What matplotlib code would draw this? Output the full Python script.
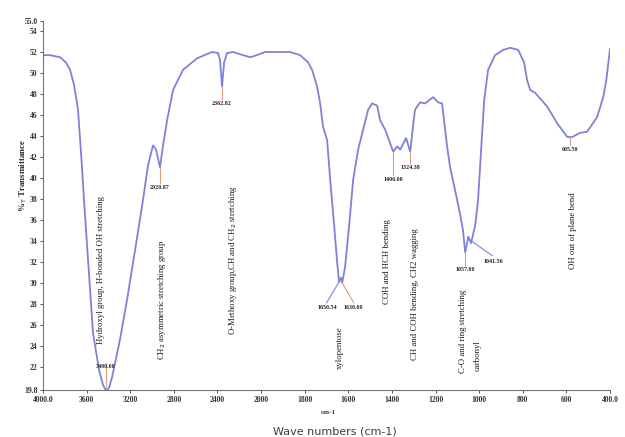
import numpy as np
import matplotlib
matplotlib.use("Agg")
import matplotlib.pyplot as plt

# --- spectrum (wavenumber cm-1, %T) ---
wavenumber = [4000, 3936, 3844, 3789, 3752, 3716, 3679, 3642, 3624, 3587,
              3541, 3486, 3450, 3422, 3394, 3367, 3294, 3229, 3156, 3083,
              3037, 2991, 2963, 2927, 2899, 2862, 2807, 2716, 2587, 2450,
              2394, 2376, 2358, 2339, 2312, 2257, 2165, 2101, 2037, 1982,
              1867, 1821, 1784, 1766, 1743, 1729, 1716, 1697, 1683, 1665,
              1651, 1642, 1633, 1628, 1615, 1596, 1578, 1555, 1532, 1509,
              1491, 1468, 1454, 1431, 1408, 1394, 1376, 1362, 1335, 1316,
              1303, 1294, 1271, 1248, 1211, 1188, 1170, 1147, 1133, 1106,
              1087, 1074, 1064, 1050, 1037, 1018, 1005, 991, 977, 959,
              927, 890, 858, 821, 794, 780, 766, 743, 688, 642,
              596, 573, 537, 505, 459, 431, 417, 400]
transmittance = [51.7, 51.7, 51.5, 51.0, 50.3, 48.9, 46.5, 41.0, 37.9, 32.2,
                 25.2, 21.7, 20.3, 19.7, 20.0, 21.0, 24.6, 28.4, 33.1, 37.9,
                 41.2, 43.1, 42.7, 41.0, 43.1, 45.5, 48.4, 50.3, 51.4, 52.0,
                 51.9, 51.2, 48.7, 51.0, 51.9, 52.0, 51.7, 51.5, 51.7, 52.0,
                 52.0, 51.7, 51.0, 50.3, 48.7, 47.1, 44.9, 43.6, 39.8, 35.5,
                 31.9, 30.1, 30.5, 30.0, 31.5, 35.5, 39.8, 42.7, 44.6, 46.5,
                 47.1, 46.9, 45.5, 44.6, 43.3, 42.5, 43.0, 42.7, 43.8, 42.5,
                 45.0, 46.5, 47.2, 47.1, 47.7, 47.2, 47.1, 43.0, 41.0, 38.4,
                 36.5, 35.0, 32.9, 34.4, 33.8, 35.5, 37.9, 42.7, 47.4, 50.3,
                 51.7, 52.2, 52.4, 52.2, 51.0, 49.3, 48.4, 48.1, 46.8, 45.2,
                 43.9, 43.9, 44.3, 44.4, 45.8, 47.7, 49.3, 52.3]

x_ticks = [4000, 3600, 3200, 2800, 2400, 2000, 1800, 1600, 1400, 1200, 1000, 800, 600, 400]
x_ticklabels = ["4000.0", "3600", "3200", "2800", "2400", "2000", "1800", "1600",
                "1400", "1200", "1000", "800", "600", "400.0"]
y_ticks = [19.8, 22, 24, 26, 28, 30, 32, 34, 36, 38, 40, 42, 44, 46, 48, 50, 52, 54, 55.0]
y_ticklabels = ["19.8"] + [str(v) for v in range(22, 56, 2)] + ["55.0"]

# peak markers: where the leader starts, where the number sits
peak_wn = [3422, 2927, 2358, 1394, 1316, 1064, 583]
peak_T = [19.7, 41.0, 48.7, 42.5, 42.5, 32.9, 43.9]
peak_text_T = [22.0, 39.1, 47.1, 39.9, 41.0, 31.3, 42.7]
peak_labels = ["3400.00", "2920.87", "2362.82", "1406.00", "1324.38", "1057.00", "605.50"]

# band assignments (rotated texts)
band_labels = ["Hydroxyl group, H-bonded OH stretching",
               "CH$_2$ asymmetric stretching group",
               "O-Methoxy group,CH and CH$_2$ stretching",
               "xylopentose",
               "COH and HCH bending",
               "CH and COH bending, CH2 wagging",
               "C-O and ring stretching",
               "carbonyl",
               "OH out of plane bend"]
band_wn = [3470, 2905, 2262, 1637, 1422, 1294, 1074, 1005, 568]
band_T = [31.2, 28.4, 32.2, 23.8, 32.0, 28.9, 25.4, 23.1, 35.0]


def fwd(x):
    x = np.asarray(x, dtype=float)
    return np.where(x >= 2000, x / 400.0, 5 - (2000 - x) / 200.0)


def inv(u):
    u = np.asarray(u, dtype=float)
    return np.where(u >= 5, u * 400.0, 2000 - (5 - u) * 200.0)


fig = plt.figure(figsize=(6.25, 4.37), dpi=100)
ax = fig.add_axes([43 / 625, 1 - 390 / 437, (610 - 43) / 625, (390 - 20.5) / 437])
ax.set_xscale("function", functions=(fwd, inv))
ax.set_xlim(4000, 400)
ax.set_ylim(19.8, 55.0)

line_col = "#7f82d6"
lead_col = "#e39a7c"
ax.plot(wavenumber, transmittance, color=line_col, lw=1.3)

# leader lines + peak numbers
for wn, t, tt, lab in zip(peak_wn, peak_T, peak_text_T, peak_labels):
    ax.plot([wn, wn], [t, tt + 0.4], color=lead_col, lw=0.8)
    ax.text(wn, tt, lab, ha="center", va="center", fontsize=4.3,
            fontweight="bold", family="Liberation Serif", color="#222222")

# the twin labels at the 1650 band
ax.plot([1642, 1700], [30.1, 28.1], color=line_col, lw=0.8)
ax.plot([1628, 1575], [30.0, 28.1], color=lead_col, lw=0.8)
ax.text(1697, 27.7, "1650.54", ha="center", va="center", fontsize=4.3,
        fontweight="bold", family="Liberation Serif", color="#222222")
ax.text(1578, 27.7, "1630.00", ha="center", va="center", fontsize=4.3,
        fontweight="bold", family="Liberation Serif", color="#222222")
# second marker on the 1060 band
ax.plot([1050, 940], [34.2, 32.6], color=line_col, lw=0.8)
ax.text(935, 32.0, "1041.56", ha="center", va="center", fontsize=4.3,
        fontweight="bold", family="Liberation Serif", color="#222222")

for lab, wn, t in zip(band_labels, band_wn, band_T):
    ax.text(wn, t, lab, rotation=90, ha="center", va="center", fontsize=6.3,
            family="Liberation Serif", color="#1a1a1a")

ax.set_xticks(x_ticks)
ax.set_xticklabels(x_ticklabels)
ax.set_yticks(y_ticks)
ax.set_yticklabels(y_ticklabels)
ax.xaxis.set_minor_locator(matplotlib.ticker.NullLocator())
ax.tick_params(axis="both", direction="out", length=2, width=0.6, pad=2,
               labelsize=5.5, colors="#333333")
for lbl in ax.get_xticklabels() + ax.get_yticklabels():
    lbl.set_family("Liberation Serif")
    lbl.set_fontweight("bold")

for s in ["top", "right"]:
    ax.spines[s].set_visible(False)
for s in ["left", "bottom"]:
    ax.spines[s].set_color("#777777")
    ax.spines[s].set_linewidth(0.8)

fig.text(328 / 625, 1 - 412 / 437, "cm-1", ha="center", va="center", fontsize=5,
         fontweight="bold", family="Liberation Serif", color="#333333")
fig.text(335 / 625, 1 - 431 / 437, "Wave numbers (cm-1)", ha="center", va="center",
         fontsize=8, color="#3a3a4a")
fig.text(23 / 625, 1 - 175 / 437, "%$_{\\rm T}$ Transmittance", rotation=90, ha="center",
         va="center", fontsize=6.5, fontweight="bold", family="Liberation Serif",
         color="#2a2a2a")

fig.savefig("out.png", dpi=100)
